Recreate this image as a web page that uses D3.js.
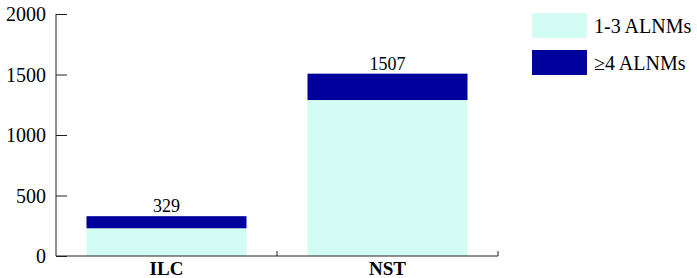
<!DOCTYPE html>
<html>
<head>
<meta charset="utf-8">
<script src="https://cdn.jsdelivr.net/npm/d3@7"></script>
<style>
  body { margin: 0; background: #fff; }
</style>
</head>
<body>
<div id="chart"></div>
<script>
const categories = ["ILC", "NST"];
const seriesNames = ["1-3 ALNMs", "\u22654 ALNMs"];
const lowCounts = [229, 1289];
const highCounts = [100, 218];
const totals = [329, 1507];
const yTicks = [0, 500, 1000, 1500, 2000];

const width = 697, height = 278;
const margin = { top: 14, right: 199, bottom: 22, left: 56 };
const innerW = 498 - margin.left;
const innerH = 256 - margin.top;
const colors = ["#d3fcf4", "#00009c"];
const serif = "'Liberation Serif', 'Times New Roman', 'DejaVu Serif', serif";

const svg = d3.select("#chart").append("svg")
    .attr("width", width)
    .attr("height", height)
    .attr("font-family", serif)
    .style("font-family", serif);

const g = svg.append("g")
    .attr("transform", `translate(${margin.left},${margin.top})`);

const x = d3.scaleBand()
    .domain(categories)
    .range([0, innerW])
    .paddingInner(0.276)
    .paddingOuter(0.138);

const y = d3.scaleLinear()
    .domain([0, 2000])
    .range([innerH, 0]);

const rows = categories.map((c, i) => ({ cat: c, low: lowCounts[i], high: highCounts[i], total: totals[i] }));
const stacked = d3.stack().keys(["low", "high"])(rows);

g.selectAll(".layer")
    .data(stacked)
    .enter().append("g")
    .attr("class", "layer")
    .attr("fill", (d, i) => colors[i])
    .selectAll("rect")
    .data(d => d)
    .enter().append("rect")
    .attr("x", d => x(d.data.cat))
    .attr("width", x.bandwidth())
    .attr("y", d => y(d[1]))
    .attr("height", d => y(d[0]) - y(d[1]));

// total labels
g.selectAll(".total")
    .data(rows)
    .enter().append("text")
    .attr("class", "total")
    .attr("x", d => x(d.cat) + x.bandwidth() / 2)
    .attr("y", d => y(d.total) - 4)
    .attr("text-anchor", "middle")
    .style("font-size", "18px")
    .text(d => d.total);

// y axis
const yAxis = g.append("g")
    .call(d3.axisRight(y).tickValues(yTicks).tickSize(11).tickFormat(""));
yAxis.select(".domain").remove();
yAxis.append("line")
    .attr("x1", 0).attr("x2", 0)
    .attr("y1", 0).attr("y2", innerH)
    .attr("stroke", "#222");
yAxis.selectAll(".tick line").attr("stroke", "#222");

g.selectAll(".ylab")
    .data(yTicks)
    .enter().append("text")
    .attr("class", "ylab")
    .attr("x", -10)
    .attr("y", d => y(d))
    .attr("dy", "0.35em")
    .attr("text-anchor", "end")
    .style("font-size", "20px")
    .text(d => d);

// x axis
g.append("line")
    .attr("x1", 0).attr("x2", innerW)
    .attr("y1", innerH).attr("y2", innerH)
    .attr("stroke", "#222");
const sep = [x.step() * 1, x.step() * 2].map(v => Math.min(v, innerW));
g.selectAll(".xtick")
    .data(sep)
    .enter().append("line")
    .attr("x1", d => d).attr("x2", d => d)
    .attr("y1", innerH).attr("y2", innerH - 5)
    .attr("stroke", "#222");

g.selectAll(".xlab")
    .data(categories)
    .enter().append("text")
    .attr("x", d => x(d) + x.bandwidth() / 2)
    .attr("y", innerH + 19)
    .attr("text-anchor", "middle")
    .style("font-size", "19px")
    .style("font-weight", "bold")
    .text(d => d);

// legend
const legend = svg.append("g").attr("transform", "translate(532,13)");
const items = legend.selectAll(".item")
    .data(seriesNames)
    .enter().append("g")
    .attr("transform", (d, i) => `translate(0,${i * 37})`);
items.append("rect")
    .attr("width", 55)
    .attr("height", 25)
    .attr("fill", (d, i) => colors[i]);
items.append("text")
    .attr("x", 62)
    .attr("y", 20)
    .style("font-size", "20px")
    .text(d => d);
</script>
</body>
</html>
